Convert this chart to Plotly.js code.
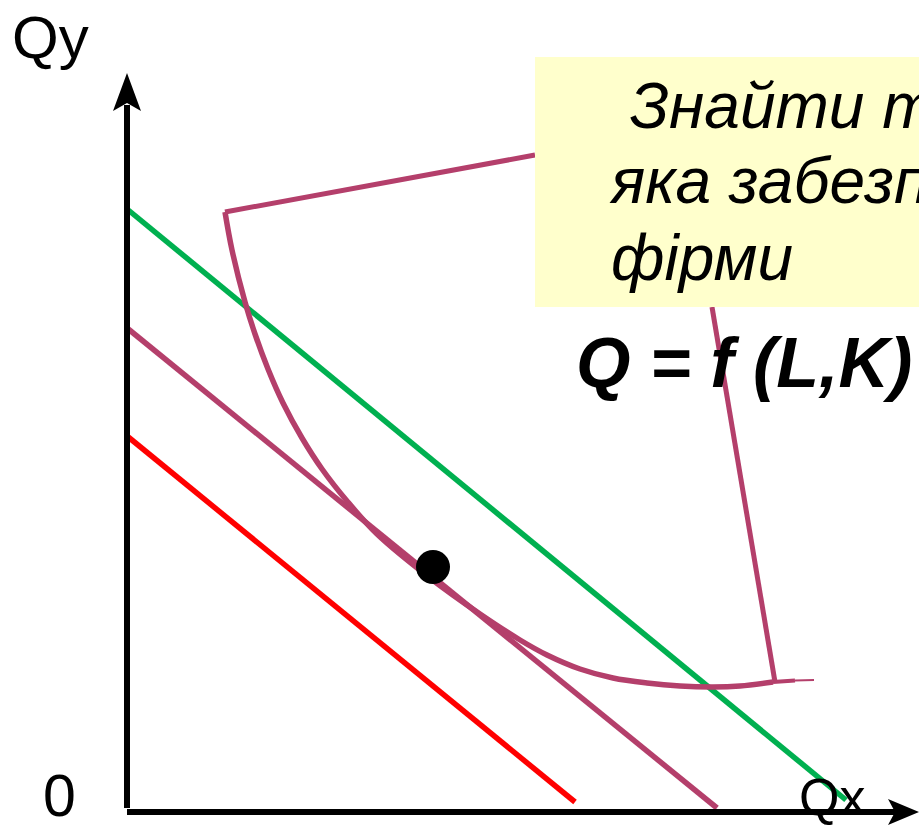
<!DOCTYPE html>
<html>
<head>
<meta charset="utf-8">
<script src="https://cdn.plot.ly/plotly-3.0.1.min.js"></script>
<style>html,body{margin:0;padding:0;background:#fff;}#chart{width:919px;height:828px;}</style>
</head>
<body>
<div id="chart"></div>
<script>
// ---- data (units: origin at the axes corner) ----
const greenX = [0, 719];
const greenY = [603, 12];
const purpleX = [0, 590];
const purpleY = [484, 4];
const redX = [0, 448];
const redY = [376, 10];
const isoX = [98, 105, 118, 128, 141, 156, 175, 195, 220, 250, 303, 353, 393, 420, 453, 486, 520, 553, 586, 613, 646];
const isoY = [600, 562, 510, 478, 443, 409, 374, 343, 311, 278, 234, 198, 172, 157, 143, 134, 129, 126, 125, 126, 130];
const isoTailX = [646, 668, 687];
const isoTailY = [130, 131.5, 132];
const optX = [306];
const optY = [245];
const calloutX = [98, 408, null, 585, 648];
const calloutY = [600, 657, null, 505, 130];
const boxLines = [" Знайти точку,", "яка забезпечує", "фірми"];
const formula = "Q = f (L,K)";
const axisLabels = ["Qy", "Qx", "0"];

// ---- layout helpers (pixel -> axis units) ----
const X0 = 127, Y0 = 812;
const px = x => x - X0;
const py = y => Y0 - y;

const PURPLE = "#B43F6B";
const GREEN = "#00B050";
const RED = "#FF0000";
const FONT = "Liberation Sans, Arial, sans-serif";
const LW = 5.5;

const traces = [
  {x: redX, y: redY, mode: "lines", line: {color: RED, width: LW}, hoverinfo: "skip"},
  {x: purpleX, y: purpleY, mode: "lines", line: {color: PURPLE, width: LW}, hoverinfo: "skip"},
  {x: greenX, y: greenY, mode: "lines", line: {color: GREEN, width: LW}, hoverinfo: "skip"},
  {x: isoX, y: isoY, mode: "lines", line: {color: PURPLE, width: LW, shape: "spline", smoothing: 1}, hoverinfo: "skip"},
  {x: isoTailX.slice(0, 2), y: isoTailY.slice(0, 2), mode: "lines", line: {color: PURPLE, width: 4}, hoverinfo: "skip"},
  {x: isoTailX.slice(1), y: isoTailY.slice(1), mode: "lines", line: {color: PURPLE, width: 2}, hoverinfo: "skip"},
  {x: calloutX, y: calloutY, mode: "lines", line: {color: PURPLE, width: 5}, hoverinfo: "skip", connectgaps: false},
  {x: optX, y: optY, mode: "markers", marker: {color: "#000", size: 34}, hoverinfo: "skip"}
];

function ann(text, x, y, size, opts) {
  return Object.assign({
    text: text, x: px(x), y: py(y), xref: "x", yref: "y",
    showarrow: false, xanchor: "left", yanchor: "middle",
    font: Object.assign({family: FONT, size: size, color: "#000"}, (opts && opts.font) || {})
  }, opts && opts.extra || {});
}

const annotations = [
  ann(boxLines[0], 610, 106, 64, {font: {style: "italic"}}),
  ann(boxLines[1], 607, 181, 64, {font: {style: "italic"}}),
  ann(boxLines[2], 609, 258, 64, {font: {style: "italic"}}),
  ann(formula, 574, 363, 70, {font: {style: "italic", weight: "bold"}}),
  ann(axisLabels[0], 50, 37, 60, {extra: {xanchor: "center"}}),
  ann(axisLabels[1], 832, 797, 52, {extra: {xanchor: "center"}}),
  ann(axisLabels[2], 59, 796, 59, {extra: {xanchor: "center"}})
];

const shapes = [
  // yellow callout box
  {type: "rect", xref: "x", yref: "y", x0: px(535), x1: px(930), y0: py(307), y1: py(57),
   fillcolor: "#FFFFCC", line: {width: 0}, layer: "above"},
  // axes
  {type: "line", xref: "x", yref: "y", x0: 0, x1: 0, y0: py(808), y1: py(105),
   line: {color: "#000", width: 6}, layer: "above"},
  {type: "line", xref: "x", yref: "y", x0: 0, x1: px(895), y0: py(812), y1: py(812),
   line: {color: "#000", width: 6}, layer: "above"},
  {type: "path", xref: "x", yref: "y",
   path: `M ${px(127)},${py(73)} L ${px(141)},${py(111)} L ${px(127)},${py(103)} L ${px(113)},${py(111)} Z`,
   fillcolor: "#000", line: {width: 0}, layer: "above"},
  {type: "path", xref: "x", yref: "y",
   path: `M ${px(919)},${py(812)} L ${px(888)},${py(799)} L ${px(895)},${py(812)} L ${px(888)},${py(825)} Z`,
   fillcolor: "#000", line: {width: 0}, layer: "above"}
];

const layout = {
  width: 919, height: 828,
  margin: {l: 0, r: 0, t: 0, b: 0},
  paper_bgcolor: "#fff", plot_bgcolor: "#fff",
  showlegend: false,
  xaxis: {range: [px(0), px(919)], visible: false, fixedrange: true},
  yaxis: {range: [py(828), py(0)], visible: false, fixedrange: true},
  shapes: shapes,
  annotations: annotations
};

Plotly.newPlot("chart", traces, layout, {displayModeBar: false, staticPlot: true});
</script>
</body>
</html>
